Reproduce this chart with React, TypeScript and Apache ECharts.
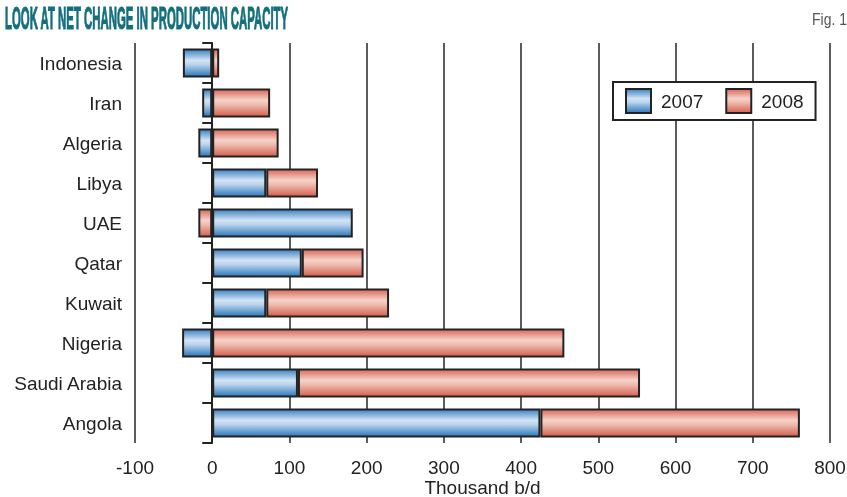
import React, { useEffect, useRef } from "react";
import * as echarts from "echarts";

const categories = ["Indonesia", "Iran", "Algeria", "Libya", "UAE", "Qatar", "Kuwait", "Nigeria", "Saudi Arabia", "Angola"];
const values2007 = [-38, -13, -18, 70, 182, 116, 70, -39, 111, 425];
const values2008 = [9, 75, 86, 67, -18, 80, 159, 456, 443, 336];
const seriesNames = ["2007", "2008"];
const titleText = "LOOK AT NET CHANGE IN PRODUCTION CAPACITY";
const figText = "Fig. 1";
const axisName = "Thousand b/d";

const FONT = "'Liberation Sans', Arial, Helvetica, sans-serif";

function measure(text: string, font: string): number {
  const c = document.createElement("canvas");
  const ctx = c.getContext("2d");
  if (!ctx) return text.length * 10;
  ctx.font = font;
  return ctx.measureText(text).width;
}

const blueGrad = () =>
  new echarts.graphic.LinearGradient(0, 0, 0, 1, [
    { offset: 0, color: "#3a80c2" },
    { offset: 0.4, color: "#d3e4f5" },
    { offset: 0.55, color: "#bcd5ee" },
    { offset: 1, color: "#2b77b7" },
  ]);
const redGrad = () =>
  new echarts.graphic.LinearGradient(0, 0, 0, 1, [
    { offset: 0, color: "#d86a58" },
    { offset: 0.4, color: "#f7d2ca" },
    { offset: 0.55, color: "#f0bdb2" },
    { offset: 1, color: "#d4604d" },
  ]);

export default function App() {
  const ref = useRef<HTMLDivElement>(null);
  useEffect(() => {
    if (!ref.current) return;
    const chart = echarts.init(ref.current, undefined, { renderer: "svg" });
    const titleFont = "bold 32px 'Liberation Sans Narrow', 'Liberation Sans', Arial, sans-serif";
    const titleW = measure(titleText, titleFont);
    const titleScale = 284 / titleW;
    const figFont = "17px 'Liberation Sans Narrow', 'Liberation Sans', Arial, sans-serif";
    const figW = measure(figText, figFont);
    const figScale = 35 / figW;

    chart.setOption({
      animation: false,
      textStyle: { fontFamily: FONT },
      graphic: [
        {
          type: "text",
          x: 5,
          y: 2,
          scaleX: titleScale,
          style: {
            text: titleText,
            font: titleFont,
            fill: "#136f7e",
            stroke: "#136f7e",
            lineWidth: 1.2,
            lineHeight: 32,
            textAlign: "left",
            textVerticalAlign: "top",
          },
        },
        {
          type: "text",
          x: 812,
          y: 10,
          scaleX: figScale,
          style: { text: figText, font: figFont, fill: "#555", textAlign: "left", textVerticalAlign: "top" },
        },
      ],
      legend: {
        data: seriesNames,
        left: 613,
        top: 82,
        orient: "horizontal",
        backgroundColor: "#fff",
        borderColor: "#222",
        borderWidth: 2,
        borderRadius: 0,
        padding: [6, 12, 6, 12],
        itemWidth: 25,
        itemHeight: 24,
        itemGap: 22,
        icon: "rect",
        textStyle: { fontSize: 19, color: "#222", fontFamily: FONT, padding: [0, 0, 0, 5] },
      },
      grid: { left: 135, right: 17, top: 43, bottom: 54, containLabel: false, outerBoundsMode: "none" },
      xAxis: {
        type: "value",
        min: -100,
        max: 800,
        interval: 100,
        axisLine: { show: false },
        axisTick: { show: false },
        axisLabel: { fontSize: 19, color: "#222", margin: 15, fontFamily: FONT },
        splitLine: { show: true, lineStyle: { color: "#333", width: 1.6 } },
        name: axisName,
        nameLocation: "middle",
        nameGap: 35,
        nameMoveOverlap: false,
        nameTextStyle: { fontSize: 19, color: "#222", fontFamily: FONT },
      },
      yAxis: {
        type: "category",
        inverse: true,
        data: categories,
        axisLine: { show: true, onZero: true, lineStyle: { color: "#222", width: 2 } },
        axisTick: { show: true, length: 10, lineStyle: { color: "#222", width: 2 } },
        axisLabel: { fontSize: 19, color: "#222", margin: 13, fontFamily: FONT },
        splitLine: { show: false },
      },
      series: [
        {
          name: seriesNames[0],
          type: "bar",
          stack: "total",
          barWidth: 29,
          data: values2007,
          itemStyle: { color: blueGrad(), borderColor: "#222", borderWidth: 2 },
        },
        {
          name: seriesNames[1],
          type: "bar",
          stack: "total",
          barWidth: 29,
          data: values2008,
          itemStyle: { color: redGrad(), borderColor: "#222", borderWidth: 2 },
        },
      ],
    });
    return () => chart.dispose();
  }, []);
  return <div ref={ref} style={{ position: "fixed", left: 0, top: 0, width: 847, height: 497 }} />;
}
